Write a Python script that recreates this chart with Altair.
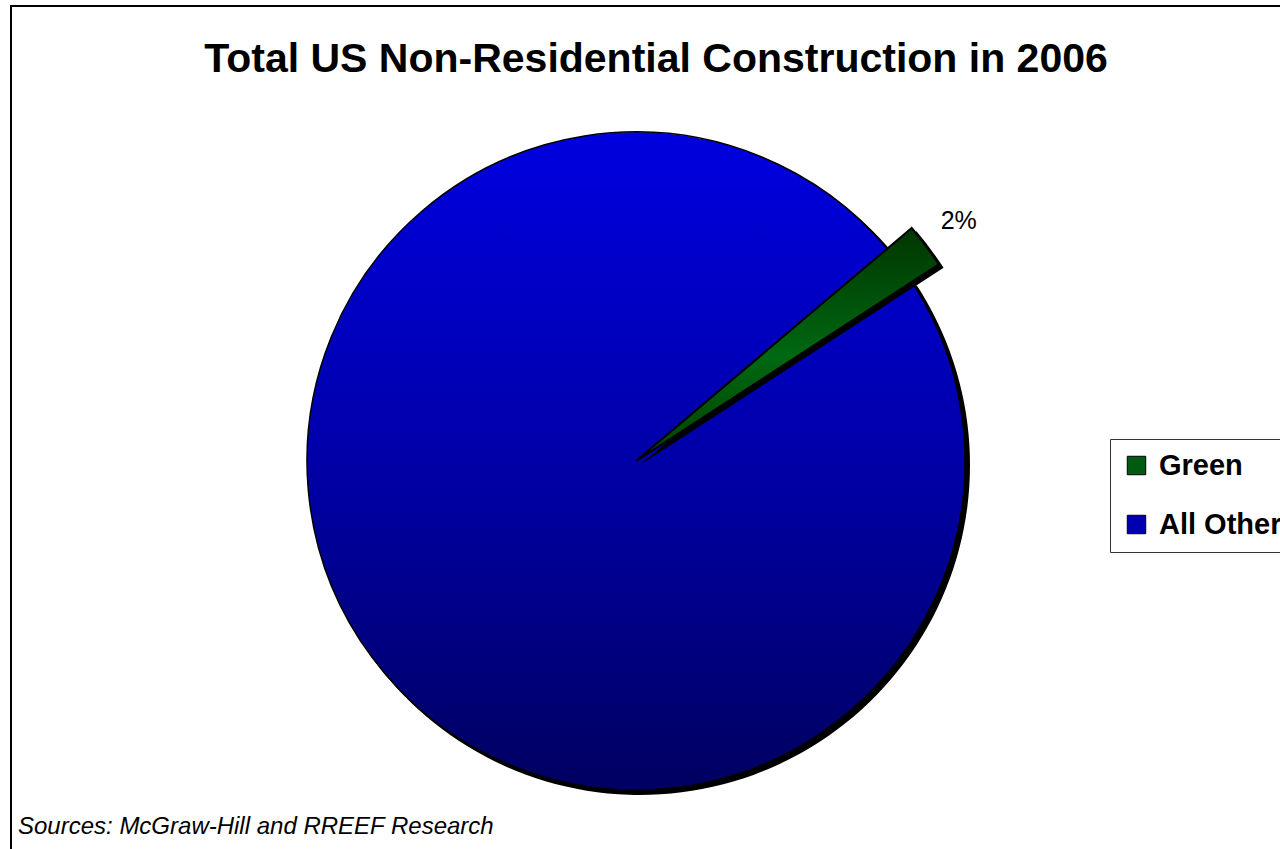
import math
import altair as alt
import pandas as pd

# ---- data ----
categories = ["Green", "All Other"]
shares = [2, 98]
legend_colors = ["#005a12", "#0000b0"]
title_text = "Total US Non-Residential Construction in 2006"
source_text = "Sources: McGraw-Hill and RREEF Research"

df = pd.DataFrame({"cat": categories, "value": shares})
df["label"] = df["value"].astype(str) + "%"

FONT = "Liberation Sans"
CX, CY = 636, 461
START = math.radians(49.8)
theta = alt.Theta("value:Q", stack=True,
                  scale=alt.Scale(range=[START, START + 2 * math.pi]))
order = alt.Order("cat:N", sort="descending")

blue_grad = alt.LinearGradient(
    gradient="linear", x1=0, x2=0, y1=0, y2=1,
    stops=[alt.GradientStop(color="#0000e0", offset=0),
           alt.GradientStop(color="#0000a8", offset=0.5),
           alt.GradientStop(color="#000060", offset=1)])
green_grad = alt.LinearGradient(
    gradient="linear", x1=0, x2=0, y1=0, y2=1,
    stops=[alt.GradientStop(color="#003600", offset=0),
           alt.GradientStop(color="#006812", offset=0.55),
           alt.GradientStop(color="#004000", offset=1)])

is_green = alt.datum.cat == "Green"
show_green = alt.condition(is_green, alt.value(1), alt.value(0))
show_other = alt.condition(is_green, alt.value(0), alt.value(1))

base = alt.Chart(df)

frame = alt.Chart(pd.DataFrame({"k": [0]})).mark_rect(
    fill="white", stroke="black", strokeWidth=2
).encode(x=alt.value(11), x2=alt.value(1320), y=alt.value(6), y2=alt.value(900))

shadow_blue = base.mark_arc(fill="black", radius=330).encode(
    theta=theta, order=order, opacity=show_other,
    x=alt.value(CX + 4), y=alt.value(CY + 4))
pie_blue = base.mark_arc(fill=blue_grad, stroke="black", strokeWidth=1.5,
                         radius=329).encode(
    theta=theta, order=order, opacity=show_other,
    x=alt.value(CX), y=alt.value(CY))
shadow_green = base.mark_arc(fill="black", radius=362).encode(
    theta=theta, order=order, opacity=show_green,
    x=alt.value(CX + 4), y=alt.value(CY + 4))
pie_green = base.mark_arc(fill=green_grad, stroke="black", strokeWidth=2,
                          radius=361).encode(
    theta=theta, order=order, opacity=show_green,
    x=alt.value(CX), y=alt.value(CY))

pct = base.mark_text(radius=402, font=FONT, fontSize=25, color="black",
                     align="center", baseline="middle").encode(
    theta=theta, order=order, opacity=show_green, text="label:N",
    x=alt.value(CX), y=alt.value(CY))

legend_helper = base.mark_square(size=100, filled=True, opacity=1).encode(
    x=alt.value(-200), y=alt.value(-200),
    color=alt.Color("cat:N",
                    scale=alt.Scale(domain=categories, range=legend_colors),
                    legend=alt.Legend(
                        orient="none", legendX=1110, legendY=439, title=None,
                        symbolType="square", symbolSize=340,
                        symbolStrokeColor="black", symbolStrokeWidth=1,
                        labelFont=FONT, labelFontSize=29, labelFontWeight="bold",
                        labelColor="black", labelOffset=8, labelLimit=400,
                        fillColor="white", strokeColor="#333333",
                        padding=12, rowPadding=29)))

title = alt.Chart(pd.DataFrame({"t": [title_text]})).mark_text(
    font=FONT, fontSize=41, fontWeight="bold", color="black",
    align="center", baseline="alphabetic").encode(
    text="t:N", x=alt.value(656), y=alt.value(72))

source = alt.Chart(pd.DataFrame({"t": [source_text]})).mark_text(
    font=FONT, fontSize=24, fontStyle="italic", color="black",
    align="left", baseline="alphabetic").encode(
    text="t:N", x=alt.value(18), y=alt.value(834))

chart = alt.layer(
    frame, shadow_blue, pie_blue, shadow_green, pie_green, pct,
    legend_helper, title, source
).properties(
    width=1280, height=849, padding=0,
    autosize=alt.AutoSizeParams(type="none"),
    background="white"
).configure_view(stroke=None)

chart.save("out.html", embed_options={"renderer": "svg", "actions": False})
